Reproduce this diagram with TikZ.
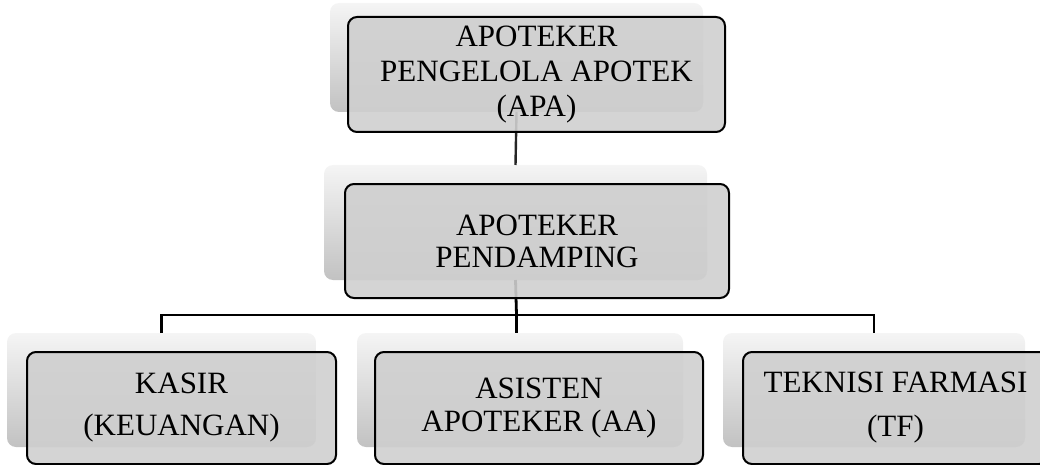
\documentclass[tikz,border=0pt]{standalone}
\usepackage{fontspec}
\setmainfont{Liberation Serif}
\begin{document}
\begin{tikzpicture}[x=1pt,y=-1pt,
  bgbox/.style={rectangle,rounded corners=9pt,inner sep=0pt,outer sep=0pt,
    top color=black!4,bottom color=black!24,draw=none},
  mainbox/.style={rectangle,rounded corners=9pt,inner sep=0pt,outer sep=0pt,
    draw=black,line width=2pt,fill=black!19,fill opacity=0.9,text opacity=1,
    align=center,text=black},
  conn/.style={draw=black,line width=2.8pt},
  conntop/.style={draw=black!85,line width=2.4pt}]
\useasboundingbox (0,0) rectangle (1040,465);
% background slabs
\node[bgbox,minimum width=373pt,minimum height=109pt] (apabg) at (516.5,57.5) {};
\node[bgbox,minimum width=383pt,minimum height=115pt] (pdbg) at (515.5,222.5) {};
\node[bgbox,minimum width=309pt,minimum height=114pt] (ksbg) at (161.5,390) {};
\node[bgbox,minimum width=326pt,minimum height=114pt] (aabg) at (520,390) {};
\node[bgbox,minimum width=302pt,minimum height=114pt] (tfbg) at (874,390) {};
% connectors
\coordinate (j) at (516.5,315);
\draw[conntop] (apabg.south) -- (pdbg.north);
\draw[conn] (pdbg.south) -- (j);
\draw[conn] (ksbg.north) |- (j) -| (tfbg.north);
\draw[conn] (j) -- (j |- aabg.north);
% main boxes
\node[mainbox,minimum width=377pt,minimum height=115pt,
  font=\fontsize{31}{35}\selectfont] (apa) at (536.5,74.5)
  {APOTEKER\\PENGELOLA APOTEK\\(APA)};
\node[mainbox,minimum width=384pt,minimum height=114pt,
  font=\fontsize{31}{32}\selectfont] (pd) at (537,241)
  {APOTEKER\\PENDAMPING};
\node[mainbox,minimum width=309pt,minimum height=112pt,
  font=\fontsize{31}{42}\selectfont] (ks) at (181.5,408)
  {KASIR\\(KEUANGAN)};
\node[mainbox,minimum width=328pt,minimum height=112pt,
  font=\fontsize{31}{33}\selectfont] (aa) at (539,408)
  {ASISTEN\\APOTEKER (AA)};
\node[mainbox,minimum width=305pt,minimum height=112pt,
  font=\fontsize{31}{44}\selectfont] (tf) at (895.5,408)
  {TEKNISI FARMASI\\(TF)};
\end{tikzpicture}
\end{document}
